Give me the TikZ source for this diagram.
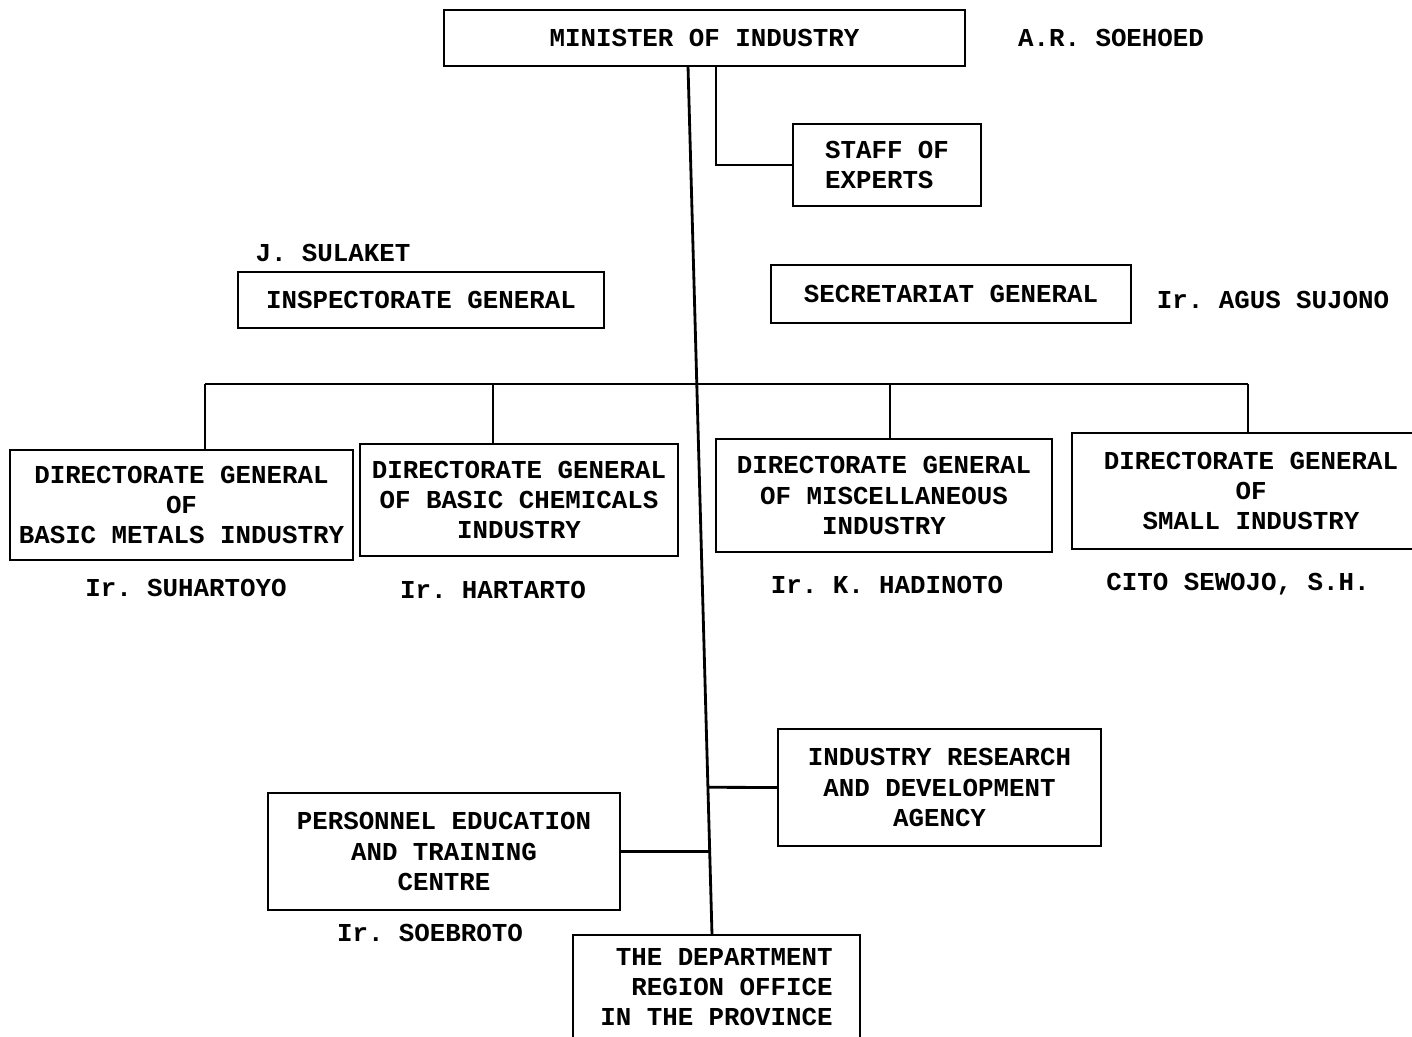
\documentclass[tikz,border=0pt]{standalone}
\usepackage{fontspec}
\setmonofont{Liberation Mono}
\usetikzlibrary{calc}
\tikzset{
  chartfont/.style={font=\fontsize{14.7}{17.1}\selectfont\ttfamily\bfseries},
  unitbox/.style={draw, line width=1.4pt, rectangle, inner sep=0pt, chartfont, align=center},
  person/.style={chartfont, inner sep=0pt},
  link/.style={line width=1.6pt}
}
\begin{document}
\begin{tikzpicture}[x=0.02cm, y=-0.02cm]
\useasboundingbox (0,0) rectangle (1412,1037);

% units
\node[unitbox, minimum width=10.42cm, minimum height=1.12cm] (m) at (704.5,38) {MINISTER OF INDUSTRY};
\node[unitbox, minimum width=3.76cm, minimum height=1.64cm, align=left] (staff) at (887,165) {STAFF OF\\EXPERTS};
\node[unitbox, minimum width=7.32cm, minimum height=1.12cm] (insp) at (421,300) {INSPECTORATE GENERAL};
\node[unitbox, minimum width=7.2cm, minimum height=1.16cm] (sec) at (951,294) {SECRETARIAT GENERAL};
\node[unitbox, minimum width=6.86cm, minimum height=2.2cm] (dg1) at (181.5,505) {DIRECTORATE GENERAL\\OF\\BASIC METALS INDUSTRY};
\node[unitbox, minimum width=6.36cm, minimum height=2.24cm] (dg2) at (519,500) {DIRECTORATE GENERAL\\OF BASIC CHEMICALS\\INDUSTRY};
\node[unitbox, minimum width=6.72cm, minimum height=2.26cm] (dg3) at (884,495.5) {DIRECTORATE GENERAL\\OF MISCELLANEOUS\\INDUSTRY};
\node[unitbox, minimum width=7.16cm, minimum height=2.32cm] (dg4) at (1251,491) {DIRECTORATE GENERAL\\OF\\SMALL INDUSTRY};
\node[unitbox, minimum width=6.46cm, minimum height=2.34cm] (res) at (939.5,787.5) {INDUSTRY RESEARCH\\AND DEVELOPMENT\\AGENCY};
\node[unitbox, minimum width=7.04cm, minimum height=2.34cm] (pers) at (444,851.5) {PERSONNEL EDUCATION\\AND TRAINING\\CENTRE};
\node[unitbox, minimum width=5.74cm, minimum height=2.1cm, align=right] (dept) at (716.5,987.5) {THE DEPARTMENT\\REGION OFFICE\\IN THE PROVINCE};

% persons
\node[person] (pm) at (1111,38) {A.R. SOEHOED};
\node[person] (pinsp) at (333,253) {J. SULAKET};
\node[person] (psec) at (1273,300) {Ir. AGUS SUJONO};
\node[person] (pdg1) at (186,588) {Ir. SUHARTOYO};
\node[person] (pdg2) at (493,590) {Ir. HARTARTO};
\node[person] (pdg3) at (887,585) {Ir. K. HADINOTO};
\node[person] (pdg4) at (1238,584) {CITO SEWOJO, S.H.};
\node[person] (ppers) at (430,933) {Ir. SOEBROTO};

% connectors
\coordinate (mt) at (688,66);
\coordinate (mb) at (712,935);
\draw[link] (mt) -- (mb);
\draw[link] ($(m.south)+(11.5,0)$) |- (staff.west);

\coordinate (b1) at (205,384);
\coordinate (b2) at (493,384);
\coordinate (b3) at (890,384);
\coordinate (b4) at (1248,384);
\draw[link] (b1) -- (b4);
\draw[link] (b1) -- (b1 |- dg1.north);
\draw[link] (b2) -- (b2 |- dg2.north);
\draw[link] (b3) -- (b3 |- dg3.north);
\draw[link] (b4) -- (b4 |- dg4.north);

\coordinate (r1) at ($(mt)!0.830!(mb)$);
\draw[link] (res.west) -- (r1);
\coordinate (p1) at ($(mt)!0.904!(mb)$);
\draw[link] (pers.east) -- (p1);
\end{tikzpicture}
\end{document}
